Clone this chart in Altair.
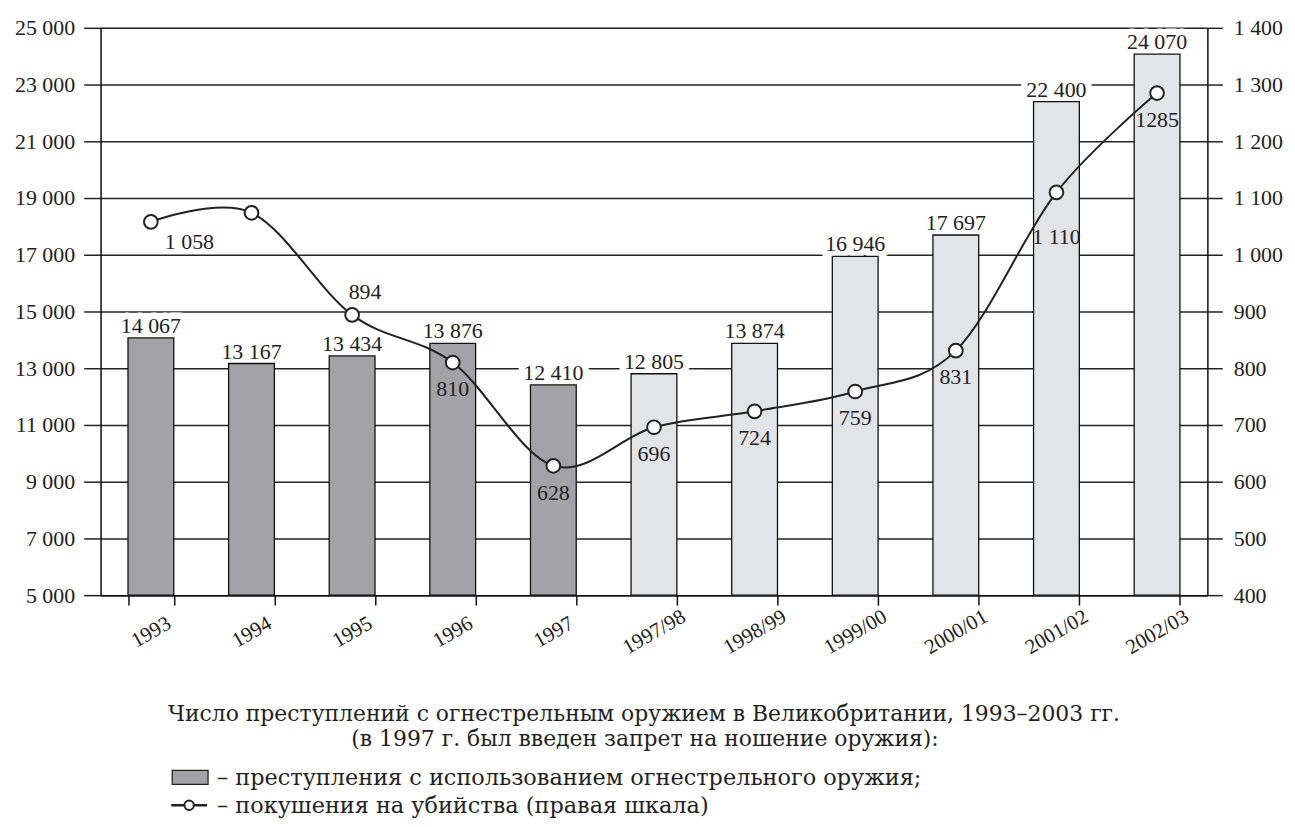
import altair as alt
import pandas as pd

# ---- data ----
periods = ["1993", "1994", "1995", "1996", "1997", "1997/98", "1998/99",
           "1999/00", "2000/01", "2001/02", "2002/03"]
gun_crimes = [14067, 13167, 13434, 13876, 12410, 12805, 13874, 16946, 17697, 22400, 24070]
attempted_murders = [1058, 1074, 894, 810, 628, 696, 724, 759, 831, 1110, 1285]
murder_labels = ["1 058", "", "894", "810", "628", "696", "724", "759", "831", "1 110", "1285"]
phase = ["before"] * 5 + ["after"] * 6

caption_lines = [
    "Число преступлений с огнестрельным оружием в Великобритании, 1993–2003 гг.",
    "(в 1997 г. был введен запрет на ношение оружия):",
]
legend_texts = [
    "– преступления с использованием огнестрельного оружия;",
    "– покушения на убийства (правая шкала)",
]

df = pd.DataFrame({
    "period": periods,
    "crimes": gun_crimes,
    "crime_label": [f"{v:,}".replace(",", " ") for v in gun_crimes],
    "murders": attempted_murders,
    "murder_label": murder_labels,
    "phase": phase,
})

FONT = "Liberation Serif"
CFONT = "DejaVu Serif"
W, H = 1112, 570
fmt_expr = ("datum.value >= 1000 ? format(floor(datum.value/1000),'d') + ' ' + "
            "format(datum.value % 1000, '03d') : format(datum.value,'d')")

x_axis = alt.Axis(tickBand="extent", tickSize=10, tickWidth=1.5, tickColor="#111",
                  domainColor="#111", domainWidth=1.5, labelAngle=-30,
                  labelAlign="center", labelBaseline="middle", labelPadding=27,
                  labelFont=FONT, labelFontSize=21, labelColor="#222")
x_scale = alt.Scale(paddingInner=0.545, paddingOuter=0.2725)
x_enc = alt.X("period:N", sort=periods, title=None, scale=x_scale, axis=x_axis)

yL_scale = alt.Scale(domain=[5000, 25000], zero=False, nice=False)
yR_scale = alt.Scale(domain=[400, 1400], zero=False, nice=False)
yL_axis = alt.Axis(values=list(range(5000, 25001, 2000)), grid=True,
                   gridColor="#222", gridWidth=1.5, tickSize=17, tickWidth=1.5,
                   tickColor="#222", domainColor="#111", domainWidth=1.5,
                   labelExpr=fmt_expr, labelFont=FONT, labelFontSize=22,
                   labelColor="#222", labelPadding=9)
yL_enc = alt.Y("crimes:Q", scale=yL_scale, title=None, axis=yL_axis)

base = alt.Chart(df)

# white halo drawn under the bars, so it only breaks the gridlines around the labels
bar_halo = base.mark_text(baseline="alphabetic", dy=-5, font=FONT, fontSize=22,
                          color="white", stroke="white", strokeWidth=13,
                          strokeJoin="round").encode(
    x=x_enc, y=yL_enc, text="crime_label:N")

bars = base.mark_bar(stroke="#111", strokeWidth=1.3).encode(
    x=x_enc,
    y=yL_enc,
    y2=alt.datum(5000),
    color=alt.Color("phase:N", scale=alt.Scale(domain=["before", "after"],
                                               range=["#a3a3a7", "#e3e4e7"]), legend=None),
)

bar_text = base.mark_text(baseline="alphabetic", dy=-5, font=FONT, fontSize=22,
                          color="#222").encode(
    x=x_enc, y=yL_enc, text="crime_label:N")

left = alt.layer(bar_halo, bars, bar_text)

yR_axis = alt.Axis(orient="right", values=list(range(400, 1401, 100)), grid=False,
                   tickSize=15, tickWidth=1.5, tickColor="#222", domainColor="#111",
                   domainWidth=1.5, labelExpr=fmt_expr, labelFont=FONT,
                   labelFontSize=22, labelColor="#222", labelPadding=11)
yR = alt.Y("murders:Q", scale=yR_scale, title=None, axis=yR_axis)

line = base.mark_line(interpolate="cardinal", color="#222", strokeWidth=2).encode(
    x=x_enc, y=yR)
pts = base.mark_point(shape="circle", filled=True, fill="white", stroke="#222",
                      strokeWidth=2, size=190, opacity=1).encode(x=x_enc, y=yR)

def mlabel(cond, **kw):
    return base.transform_filter(cond).mark_text(font=FONT, fontSize=22, color="#222", **kw).encode(
        x=x_enc, y=yR, text="murder_label:N")

lab_1058 = mlabel("datum.period == '1993'", align="left", dx=14, dy=20)
lab_894 = mlabel("datum.period == '1995'", dx=13, dy=-23)
lab_1110 = mlabel("datum.period == '2001/02'", dy=45)
lab_below = mlabel("indexof(['1996','1997','1997/98','1998/99','1999/00','2000/01','2002/03'], datum.period) >= 0",
                   dy=27)

right = alt.layer(line, pts, lab_1058, lab_894, lab_1110, lab_below)

# ---- caption and legend ----
def txt(s, x, y, size=22, align="left"):
    return alt.Chart(pd.DataFrame({"t": [s]})).mark_text(
        font=CFONT, fontSize=size, align=align, baseline="alphabetic", color="#222").encode(
        text="t:N", x=alt.value(x), y=alt.value(y))

cap1 = txt(caption_lines[0], 546, 696, align="center")
cap2 = txt(caption_lines[1], 547, 722, align="center")
leg1_sym = alt.Chart(pd.DataFrame({"k": [0]})).mark_rect(
    fill="#a3a3a7", stroke="#222", strokeWidth=1.3).encode(
    x=alt.value(72), x2=alt.value(108), y=alt.value(746), y2=alt.value(760))
leg1_txt = txt(legend_texts[0], 117, 761, 22.5)
leg2_rule = alt.Chart(pd.DataFrame({"k": [0]})).mark_rule(color="#222", strokeWidth=2.5).encode(
    x=alt.value(71), x2=alt.value(107), y=alt.value(781))
leg2_pt = alt.Chart(pd.DataFrame({"k": [0]})).mark_point(
    shape="circle", filled=True, fill="white", stroke="#222", strokeWidth=2, size=90, opacity=1).encode(
    x=alt.value(89), y=alt.value(781))
leg2_txt = txt(legend_texts[1], 117, 789, 22.5)

chart = alt.layer(left, right, cap1, cap2, leg1_sym, leg1_txt, leg2_rule, leg2_pt,
                  leg2_txt).resolve_scale(
    y="independent"
).properties(
    width=W, height=H,
    autosize=alt.AutoSizeParams(type="none"),
    padding={"left": 93, "top": 18, "right": 80, "bottom": 230},
).configure_view(stroke=None).configure(background="white")

chart.save("out.html", embed_options={"renderer": "svg", "actions": False})
